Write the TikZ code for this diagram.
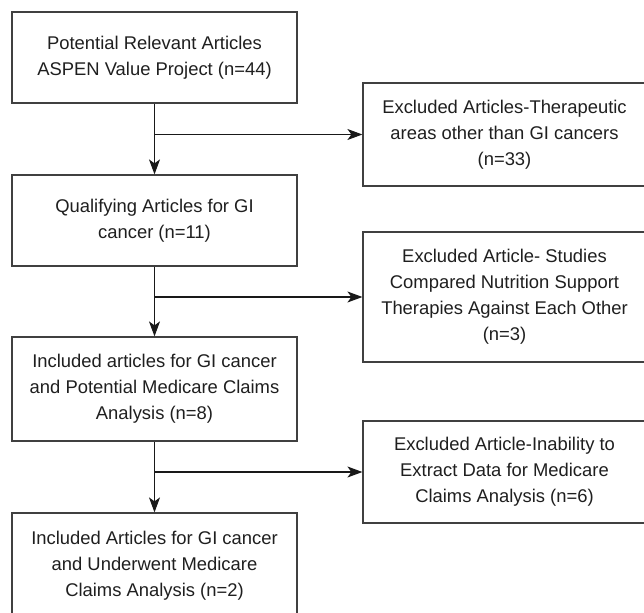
\documentclass[tikz,border=0pt]{standalone}
\usepackage{fontspec}
\setmainfont{Liberation Sans}
\usetikzlibrary{arrows.meta}
\tikzset{
  flowbox/.style={draw=black!75, line width=1.2pt, fill=white, inner sep=0pt,
    align=center, text=black!88, font=\fontsize{18.4}{26}\selectfont},
  arr/.style={draw=black!90, line width=1.1pt,
    -{Stealth[length=15pt, width=11pt, inset=4pt]}},
  plain/.style={draw=black!90, line width=1.1pt}
}
\begin{document}
\begin{tikzpicture}[x=1pt, y=-1pt]
\useasboundingbox (0,0) rectangle (644,612);
\clip (0,0) rectangle (644,612);
\fill[white] (0,0) rectangle (644,612);
% left column
\node[flowbox, minimum width=285pt, minimum height=91pt] (b1) at (154.5,57.5)
  {Potential Relevant Articles\\ASPEN Value Project (n=44)};
\node[flowbox, minimum width=285pt, minimum height=91pt] (b2) at (154.5,220.5)
  {Qualifying Articles for GI\\cancer (n=11)};
\node[flowbox, minimum width=285pt, minimum height=104pt] (b3) at (154.5,389)
  {Included articles for GI cancer\\and Potential Medicare Claims\\Analysis (n=8)};
\node[flowbox, minimum width=285pt, minimum height=105pt] (b4) at (154.5,565.5)
  {Included Articles for GI cancer\\and Underwent Medicare\\Claims Analysis (n=2)};
% right column
\node[flowbox, minimum width=283pt, minimum height=103pt] (e1) at (504.5,134.5)
  {Excluded Articles-Therapeutic\\areas other than GI cancers\\(n=33)};
\node[flowbox, minimum width=283pt, minimum height=130pt] (e2) at (504.5,297)
  {Excluded Article- Studies\\Compared Nutrition Support\\Therapies Against Each Other\\(n=3)};
\node[flowbox, minimum width=283pt, minimum height=102pt] (e3) at (504.5,472)
  {Excluded Article-Inability to\\Extract Data for Medicare\\Claims Analysis (n=6)};
% junctions
\coordinate (j1) at (154.5,134.5);
\coordinate (j2) at (154.5,297);
\coordinate (j3) at (154.5,472);
% connectors
\draw[arr] (b1.south) -- (b2.north);
\draw[arr] (b2.south) -- (b3.north);
\draw[arr] (b3.south) -- (b4.north);
\draw[arr] (j1) -- (e1.west);
\draw[arr] (j2) -- (e2.west);
\draw[arr] (j3) -- (e3.west);
\end{tikzpicture}
\end{document}
